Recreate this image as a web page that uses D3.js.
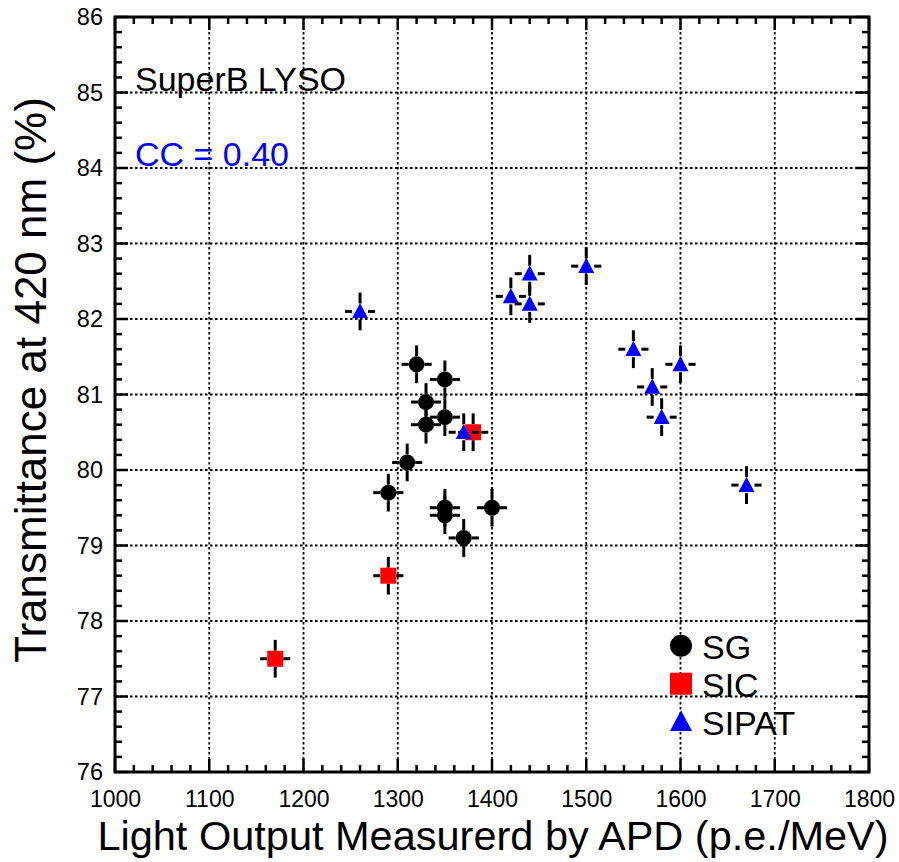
<!DOCTYPE html>
<html>
<head>
<meta charset="utf-8">
<script src="https://cdn.jsdelivr.net/npm/d3@7"></script>
<style>
  html, body { margin: 0; padding: 0; background: #fff; }
  svg { display: block; font-family: "Liberation Sans", Arial, sans-serif; }
</style>
</head>
<body>
<svg id="chart" width="899" height="862"></svg>
<script>
// ---- data ----
const sgX = [1320, 1350, 1330, 1350, 1330, 1310, 1290, 1350, 1350, 1400, 1370];
const sgY = [81.4, 81.2, 80.9, 80.7, 80.6, 80.1, 79.7, 79.5, 79.4, 79.5, 79.1];
const sicX = [1380, 1290, 1170];
const sicY = [80.5, 78.6, 77.5];
const sipatX = [1260, 1440, 1420, 1440, 1500, 1550, 1570, 1600, 1580, 1670, 1370];
const sipatY = [82.1, 82.6, 82.3, 82.2, 82.7, 81.6, 81.1, 81.4, 80.7, 79.8, 80.5];
const xErr = 16;      // p.e./MeV
const yErr = 0.25;    // %
const xTicks = [1000, 1100, 1200, 1300, 1400, 1500, 1600, 1700, 1800];
const yTicks = [76, 77, 78, 79, 80, 81, 82, 83, 84, 85, 86];
const seriesNames = ["SG", "SIC", "SIPAT"];

// ---- layout ----
const svg = d3.select("#chart");
const L = 115, R = 869, T = 17, B = 772;
const x = d3.scaleLinear().domain([1000, 1800]).range([L, R]);
const y = d3.scaleLinear().domain([76, 86]).range([B, T]);

// grid
const grid = svg.append("g").attr("stroke", "#000").attr("stroke-width", 1.8)
  .attr("stroke-dasharray", "2.5,2.5").attr("fill", "none");
xTicks.slice(1, -1).forEach(v => grid.append("line")
  .attr("x1", x(v)).attr("x2", x(v)).attr("y1", T).attr("y2", B));
yTicks.slice(1, -1).forEach(v => grid.append("line")
  .attr("x1", L).attr("x2", R).attr("y1", y(v)).attr("y2", y(v)));

// axes (ticks inward)
const majLen = 13, minLen = 7;
const xMinor = d3.range(1000, 1800.1, 20);
const yMinor = d3.range(76, 86.01, 0.2);
const tk = svg.append("g").attr("stroke", "#000").attr("stroke-width", 2.5);
xMinor.forEach(v => {
  const isMaj = Math.abs((v - 1000) % 100) < 1e-6;
  const len = isMaj ? majLen : minLen;
  tk.append("line").attr("x1", x(v)).attr("x2", x(v)).attr("y1", B).attr("y2", B - len);
  tk.append("line").attr("x1", x(v)).attr("x2", x(v)).attr("y1", T).attr("y2", T + len);
});
yMinor.forEach(v => {
  const isMaj = Math.abs(v - Math.round(v)) < 1e-6;
  const len = isMaj ? majLen : minLen;
  tk.append("line").attr("x1", L).attr("x2", L + len).attr("y1", y(v)).attr("y2", y(v));
  tk.append("line").attr("x1", R).attr("x2", R - len).attr("y1", y(v)).attr("y2", y(v));
});

// tick labels via d3 axes (lines hidden)
const xAxis = svg.append("g").attr("transform", `translate(0,${B})`)
  .call(d3.axisBottom(x).tickValues(xTicks).tickSize(0).tickPadding(19).tickFormat(d3.format("d")));
xAxis.select(".domain").remove();
xAxis.selectAll("text").attr("font-size", 23).attr("fill", "#000")
  .attr("font-family", "Liberation Sans, Arial, sans-serif");
const yAxis = svg.append("g").attr("transform", `translate(${L},0)`)
  .call(d3.axisLeft(y).tickValues(yTicks).tickSize(0).tickPadding(12).tickFormat(d3.format("d")));
yAxis.select(".domain").remove();
yAxis.selectAll("text").attr("font-size", 23.5).attr("fill", "#000")
  .attr("font-family", "Liberation Sans, Arial, sans-serif");

// frame
svg.append("rect").attr("x", L).attr("y", T).attr("width", R - L).attr("height", B - T)
  .attr("fill", "none").attr("stroke", "#000").attr("stroke-width", 3);

// axis titles
svg.append("text").attr("x", 493).attr("y", 850).attr("text-anchor", "middle")
  .attr("font-size", 41.5).text("Light Output Measurerd by APD (p.e./MeV)");
svg.append("text").attr("transform", "translate(46,380) rotate(-90)").attr("text-anchor", "middle")
  .attr("font-size", 44).text("Transmittance at 420 nm (%)");

// annotations
svg.append("text").attr("x", 135).attr("y", 91).attr("font-size", 34).text("SuperB LYSO");
svg.append("text").attr("x", 135).attr("y", 166).attr("font-size", 34).attr("fill", "#0000ff").text("CC = 0.40");

// markers
const half = 8;
function marker(g, type, cx, cy, s) {
  if (type === "circle") {
    g.append("circle").attr("cx", cx).attr("cy", cy).attr("r", s).attr("fill", "#000");
  } else if (type === "square") {
    g.append("rect").attr("x", cx - s).attr("y", cy - s).attr("width", 2 * s).attr("height", 2 * s).attr("fill", "#ff0000");
  } else {
    const h = s * 1.9;
    g.append("path").attr("d", `M${cx},${cy - h * 0.55}L${cx + s},${cy + h * 0.45}L${cx - s},${cy + h * 0.45}Z`).attr("fill", "#0000ff");
  }
}
function drawSeries(xs, ys, type) {
  const g = svg.append("g");
  xs.forEach((xv, i) => {
    const cx = x(xv), cy = y(ys[i]);
    const x0 = x(xv - xErr), x1 = x(xv + xErr), y0 = y(ys[i] - yErr), y1 = y(ys[i] + yErr);
    const e = g.append("g").attr("stroke", "#000").attr("stroke-width", 3);
    e.append("line").attr("x1", x0).attr("x2", cx - half).attr("y1", cy).attr("y2", cy);
    e.append("line").attr("x1", cx + half).attr("x2", x1).attr("y1", cy).attr("y2", cy);
    e.append("line").attr("x1", cx).attr("x2", cx).attr("y1", y1).attr("y2", cy - half);
    e.append("line").attr("x1", cx).attr("x2", cx).attr("y1", cy + half).attr("y2", y0);
    marker(g, type, cx, cy, half);
  });
}
drawSeries(sgX, sgY, "circle");
drawSeries(sicX, sicY, "square");
drawSeries(sipatX, sipatY, "triangle");

// legend
const types = ["circle", "square", "triangle"];
const lg = svg.append("g");
seriesNames.forEach((n, i) => {
  const cy = 645.7 + i * 38;
  marker(lg, types[i], 681, cy, 11);
  lg.append("text").attr("x", 702).attr("y", cy + 13).attr("font-size", 34).text(n);
});
</script>
</body>
</html>
